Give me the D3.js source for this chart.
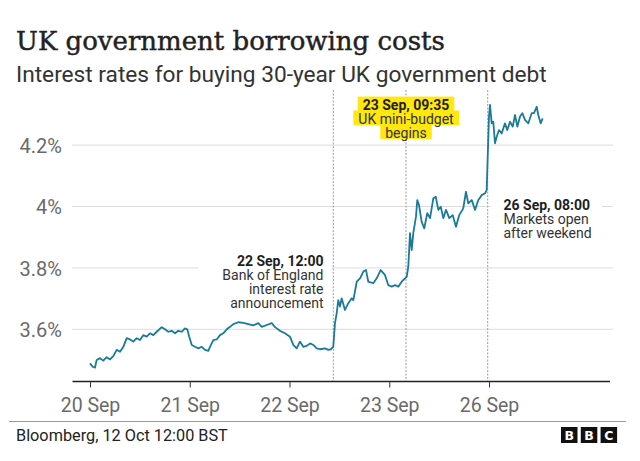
<!DOCTYPE html>
<html><head><meta charset="utf-8">
<script src="https://cdn.jsdelivr.net/npm/d3@7"></script>
<style>body{margin:0;background:#fff} svg{display:block}</style>
</head><body>
<script>
// ---- data ----
const dayLabels = ["20 Sep","21 Sep","22 Sep","23 Sep","26 Sep"];
const dayIndex = [0,1,2,3,4];
const yTicks = [3.6,3.8,4.0,4.2];
const yTickLabels = ["3.6%","3.8%","4%","4.2%"];
// time in trading-day units (0 = 20 Sep open, 4 = 26 Sep open)
const times = [0.000,0.027,0.050,0.067,0.100,0.133,0.167,0.201,0.234,0.268,0.301,0.334,0.368,0.401,0.434,0.468,0.501,0.534,0.568,0.602,
0.635,0.669,0.719,0.752,0.785,0.819,0.852,0.885,0.919,0.952,0.975,0.995,1.020,1.053,1.086,1.120,1.153,1.186,1.203,1.236,
1.270,1.303,1.336,1.371,1.404,1.437,1.487,1.537,1.587,1.637,1.687,1.722,1.772,1.822,1.855,1.905,1.955,2.005,2.038,2.072,
2.105,2.138,2.172,2.206,2.239,2.273,2.306,2.356,2.389,2.413,2.439,2.456,2.473,2.489,2.506,2.523,2.556,2.590,2.624,2.640,
2.674,2.707,2.740,2.767,2.790,2.840,2.874,2.914,2.957,2.990,3.025,3.058,3.091,3.125,3.158,3.175,3.191,3.208,3.225,3.241,
3.268,3.281,3.298,3.325,3.351,3.381,3.409,3.442,3.466,3.492,3.516,3.542,3.569,3.602,3.636,3.669,3.702,3.742,3.769,3.792,
3.827,3.860,3.893,3.927,3.960,3.977,3.987,4.000,4.010,4.027,4.043,4.060,4.077,4.100,4.127,4.160,4.183,4.211,4.238,4.261,
4.284,4.311,4.334,4.361,4.394,4.428,4.451,4.478,4.494,4.518,4.538];
const yields = [3.489,3.478,3.475,3.500,3.506,3.498,3.509,3.502,3.513,3.533,3.527,3.543,3.571,3.567,3.560,3.571,3.565,3.581,3.576,3.587,
3.581,3.592,3.607,3.600,3.592,3.595,3.587,3.595,3.592,3.603,3.600,3.576,3.549,3.543,3.538,3.543,3.533,3.530,3.543,3.565,
3.567,3.581,3.587,3.600,3.608,3.617,3.623,3.621,3.617,3.613,3.620,3.608,3.614,3.620,3.607,3.595,3.587,3.576,3.549,3.538,
3.560,3.543,3.546,3.554,3.549,3.538,3.535,3.538,3.533,3.535,3.543,3.620,3.652,3.695,3.674,3.701,3.663,3.685,3.701,3.695,
3.755,3.766,3.788,3.793,3.755,3.750,3.766,3.793,3.777,3.744,3.739,3.744,3.739,3.755,3.766,3.771,3.804,3.913,3.858,3.913,
3.967,4.021,4.005,3.950,3.929,3.978,3.962,4.027,4.032,3.989,3.999,3.962,3.989,3.962,3.972,3.934,3.972,3.994,4.048,4.010,
4.021,3.989,4.021,4.037,4.043,4.054,4.162,4.293,4.331,4.271,4.276,4.206,4.227,4.249,4.238,4.271,4.249,4.276,4.260,4.298,
4.260,4.293,4.304,4.282,4.271,4.304,4.304,4.325,4.298,4.271,4.287];
const eventTimes = [2.439, 3.168, 3.987];
const eventTitles = ["22 Sep, 12:00","23 Sep, 09:35","26 Sep, 08:00"];
const eventNotes = [["Bank of England","interest rate","announcement"],["UK mini-budget","begins"],["Markets open","after weekend"]];
const titleText = "UK government borrowing costs";
const subtitleText = "Interest rates for buying 30-year UK government debt";
const sourceText = "Bloomberg, 12 Oct 12:00 BST";

// ---- drawing ----
const W = 640, H = 461;
const sans = "Roboto, 'Noto Sans', sans-serif";
const svg = d3.select("body").append("svg").attr("width", W).attr("height", H)
  .style("background", "#fff");

const x = d3.scaleLinear().domain([0, 4]).range([90, 489]);
const y = d3.scaleLinear().domain([3.6, 4.2]).range([329.3, 145.1]);
const axisY = 381.5;

function fit(t, w) {
  const fs = parseFloat(t.attr("font-size"));
  const L = t.node().getComputedTextLength();
  t.attr("font-size", fs * w / L);
}

// title & subtitle
const title = svg.append("text").attr("x", 16).attr("y", 50)
  .attr("font-family", "'DejaVu Serif', serif").attr("font-size", 26)
  .attr("fill", "#222").attr("stroke", "#222").attr("stroke-width", 0.45)
  .text(titleText);
fit(title, 429);
const sub = svg.append("text").attr("x", 16).attr("y", 81.5)
  .attr("font-family", sans).attr("font-size", 21)
  .attr("fill", "#333").text(subtitleText);
fit(sub, 531);

// gridlines
svg.append("g").selectAll("line").data(yTicks).join("line")
  .attr("x1", 72).attr("x2", 613)
  .attr("y1", d => y(d)).attr("y2", d => y(d))
  .attr("stroke", "#dcdcdc").attr("stroke-width", 1);

// y labels
const yAxis = svg.append("g").attr("transform", "translate(72,0)")
  .call(d3.axisLeft(y).tickValues(yTicks).tickSize(0).tickPadding(10)
    .tickFormat((d, i) => yTickLabels[i]));
yAxis.select(".domain").remove();
yAxis.selectAll("text").attr("font-family", sans).attr("font-size", 20)
  .attr("fill", "#6a6a6a").attr("dy", "0.36em");

const boxLayer = svg.append("g");
const lineLayer = svg.append("g");
const curveLayer = svg.append("g");
const textLayer = svg.append("g");

// event lines
lineLayer.selectAll("line").data(eventTimes).join("line")
  .attr("x1", d => x(d)).attr("x2", d => x(d))
  .attr("y1", 90).attr("y2", axisY)
  .attr("stroke", "#9a9a9a").attr("stroke-width", 1)
  .attr("stroke-dasharray", "2,1.5");

// curve
const pts = times.map((t, i) => [t, yields[i]]);
curveLayer.append("path").datum(pts)
  .attr("d", d3.line().x(d => x(d[0])).y(d => y(d[1])))
  .attr("fill", "none").attr("stroke", "#1a7b98").attr("stroke-width", 1.8)
  .attr("stroke-linejoin", "round");

// annotations
const annFs = 14, annLH = 13.9;
const annSpecs = [
  {anchor: "end", ax: 323.5, base: 266, bg: "white", padL: 24, padR: 8},
  {anchor: "middle", ax: null, base: 110, bg: "yellow"},
  {anchor: "start", ax: 503.5, base: 210, bg: "white", padL: 13, padR: 10}
];
annSpecs.forEach((s, i) => {
  const ax = s.ax === null ? x(eventTimes[i]) : s.ax;
  const g = textLayer.append("g");
  const lines = [eventTitles[i], ...eventNotes[i]];
  const texts = lines.map((ln, j) => g.append("text")
    .attr("x", ax).attr("y", s.base + j * annLH)
    .attr("text-anchor", s.anchor)
    .attr("font-family", sans).attr("font-size", annFs)
    .attr("font-weight", j === 0 ? "bold" : "normal")
    .attr("fill", j === 0 ? "#1e1e1e" : "#333").text(ln));
  if (s.bg === "yellow") {
    texts.forEach((t, j) => {
      const b = t.node().getBBox();
      g.insert("rect", "text").attr("x", b.x - 5).attr("width", b.width + 10)
        .attr("y", s.base + j * annLH - 13.4).attr("height", annLH + 0.6)
        .attr("fill", "#ffe70f");
    });
  } else {
    const bb = g.node().getBBox();
    boxLayer.append("rect").attr("x", bb.x - s.padL).attr("width", bb.width + s.padL + s.padR)
      .attr("y", bb.y - 3).attr("height", bb.height + 6).attr("fill", "#fff");
  }
});

// x axis
svg.append("line").attr("x1", 72.5).attr("x2", 610).attr("y1", axisY).attr("y2", axisY)
  .attr("stroke", "#222").attr("stroke-width", 1.6);
const xAxis = svg.append("g").attr("transform", `translate(0,${axisY})`)
  .call(d3.axisBottom(x).tickValues(dayIndex).tickSize(6).tickPadding(11)
    .tickFormat((d, i) => dayLabels[i]));
xAxis.select(".domain").remove();
xAxis.selectAll(".tick line").attr("stroke", "#333").attr("stroke-width", 1);
xAxis.selectAll("text").attr("font-family", sans).attr("font-size", 19.5).attr("fill", "#6a6a6a");

// footer
svg.append("line").attr("x1", 9).attr("x2", 626).attr("y1", 421.5).attr("y2", 421.5)
  .attr("stroke", "#9a9a9a").attr("stroke-width", 1);
const src = svg.append("text").attr("x", 16).attr("y", 440.5)
  .attr("font-family", sans).attr("font-size", 15.5).attr("fill", "#222").text(sourceText);
fit(src, 212);

// BBC logo
const logo = svg.append("g");
["B","B","C"].forEach((ch, i) => {
  const lx = 561 + i * 19.8;
  logo.append("rect").attr("x", lx).attr("y", 427).attr("width", 16.5).attr("height", 16)
    .attr("fill", "#111");
  logo.append("text").attr("x", lx + 8.25).attr("y", 440.2).attr("text-anchor", "middle")
    .attr("font-family", "'DejaVu Sans', sans-serif").attr("font-weight", "bold")
    .attr("font-size", 12.5).attr("fill", "#fff").text(ch);
});
</script>
</body></html>
